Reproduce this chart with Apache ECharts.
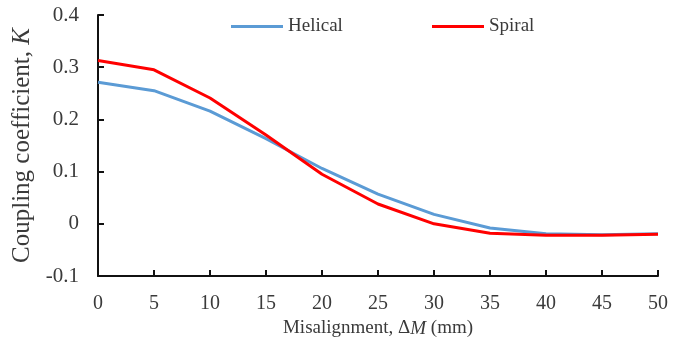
<!DOCTYPE html>
<html>
<head>
<meta charset="utf-8">
<script src="https://cdn.jsdelivr.net/npm/echarts@6/dist/echarts.min.js"></script>
<style>
html,body{margin:0;padding:0;background:#fff;}
#c{width:689px;height:348px;}
</style>
</head>
<body>
<div id="c"></div>
<script>
var misalignment = [0, 5, 10, 15, 20, 25, 30, 35, 40, 45, 50];
var helical = [0.271, 0.255, 0.216, 0.163, 0.106, 0.057, 0.018, -0.008, -0.019, -0.021, -0.019];
var spiral = [0.313, 0.295, 0.241, 0.170, 0.095, 0.038, 0.000, -0.018, -0.022, -0.022, -0.020];
var seriesNames = ['Helical', 'Spiral'];

function pairs(xs, ys){ return xs.map(function(x,i){ return [x, ys[i]]; }); }

var font = 'Liberation Serif';
var txt = '#3a3a3a';
var chart = echarts.init(document.getElementById('c'));
chart.setOption({
  animation: false,
  backgroundColor: '#fff',
  grid: {left: 98, right: 31, top: 15, bottom: 72, containLabel: false, outerBoundsMode: 'none'},
  legend: [
    {data: [seriesNames[0]], left: 231, top: 17, padding: 0, icon: 'rect', itemWidth: 52, itemHeight: 3, itemGap: 6,
     textStyle: {fontFamily: font, fontSize: 19, color: txt}},
    {data: [seriesNames[1]], left: 432, top: 17, padding: 0, icon: 'rect', itemWidth: 52, itemHeight: 3, itemGap: 6,
     textStyle: {fontFamily: font, fontSize: 19, color: txt}}
  ],
  xAxis: {
    type: 'value', min: 0, max: 50, interval: 5,
    name: '{a|Misalignment, Δ}{b|M}{a| (mm)}',
    nameLocation: 'middle', nameGap: 43, nameMoveOverlap: false,
    nameTextStyle: {rich: {
      a: {fontFamily: font, fontSize: 19, color: txt},
      b: {fontFamily: font, fontSize: 19, color: txt, fontStyle: 'italic'}
    }},
    axisLine: {show: true, onZero: false, lineStyle: {color: '#111', width: 2}},
    axisTick: {show: true, inside: true, length: 6, lineStyle: {color: '#111', width: 2}},
    axisLabel: {fontFamily: font, fontSize: 20, color: txt, margin: 18},
    splitLine: {show: false}
  },
  yAxis: {
    type: 'value', min: -0.1, max: 0.4, interval: 0.1,
    name: '{a|Coupling coefficient, }{b|K}',
    nameLocation: 'middle', nameGap: 63, nameRotate: 90, nameMoveOverlap: false,
    nameTextStyle: {rich: {
      a: {fontFamily: font, fontSize: 25, color: txt},
      b: {fontFamily: font, fontSize: 25, color: txt, fontStyle: 'italic'}
    }},
    axisLine: {show: true, onZero: false, lineStyle: {color: '#111', width: 2}},
    axisTick: {show: true, inside: true, length: 6, lineStyle: {color: '#111', width: 2}},
    axisLabel: {fontFamily: font, fontSize: 21, color: txt, margin: 19,
      formatter: function(v){ return String(Math.round(v*10)/10); }},
    splitLine: {show: false}
  },
  series: [
    {name: seriesNames[0], type: 'line', data: pairs(misalignment, helical), symbol: 'none',
     lineStyle: {color: '#5B9BD5', width: 3}, itemStyle: {color: '#5B9BD5'}},
    {name: seriesNames[1], type: 'line', data: pairs(misalignment, spiral), symbol: 'none',
     lineStyle: {color: '#FF0000', width: 3}, itemStyle: {color: '#FF0000'}}
  ]
});
</script>
</body>
</html>
